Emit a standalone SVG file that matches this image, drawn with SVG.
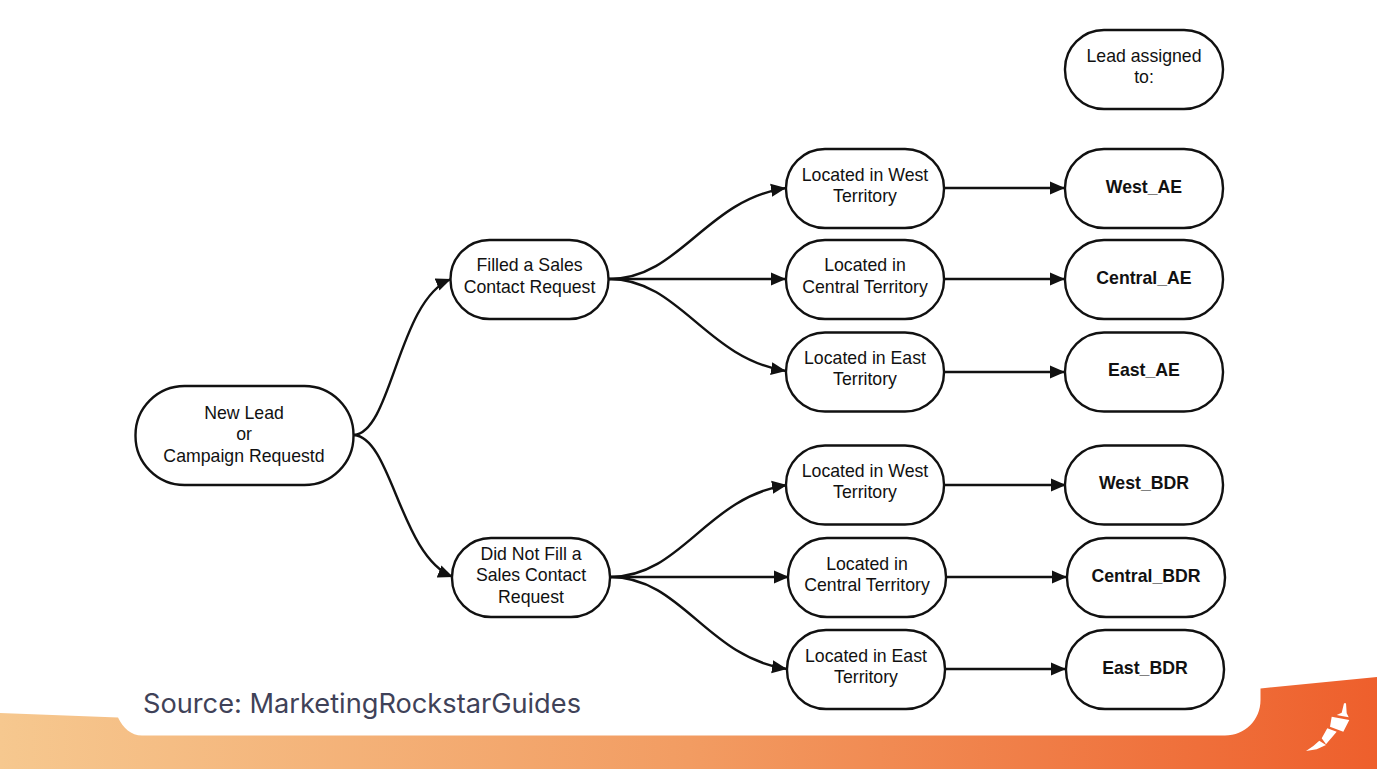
<svg xmlns="http://www.w3.org/2000/svg" width="1377" height="769" viewBox="0 0 1377 769">
<style>
.n{fill:#fff;stroke:#111;stroke-width:2.4}
.t{font-family:"Liberation Sans",Arial,sans-serif;font-size:17.7px;fill:#111;text-anchor:middle}
.b{font-weight:bold}
.c{fill:none;stroke:#111;stroke-width:2.4;marker-end:url(#a)}
</style>
<defs>
<marker id="a" markerUnits="userSpaceOnUse" markerWidth="16" markerHeight="14" refX="15" refY="7" orient="auto"><path d="M0 0.500L15 7L0 13.500Z" fill="#111"/></marker>
<linearGradient id="g" x1="0" y1="0" x2="1" y2="0"><stop offset="0" stop-color="#f6c88f"/><stop offset="0.5" stop-color="#f29c62"/><stop offset="1" stop-color="#ee5f2c"/></linearGradient>
</defs>
<rect width="1377" height="769" fill="#fff"/>
<path id="footer" d="M0 713L118 717.500C123 728 131 735.500 142 735.500L1225 735.500C1245 735.500 1260.500 720 1260.500 700L1260.500 688.500L1377 677L1377 769L0 769Z" fill="url(#g)"/>
<path id="logo" d="M1306 751L1313.300 746L1319.300 740.700L1326 745L1316.700 749.300ZM1321.700 738.300L1327.300 728.300L1336.700 731.700L1326 744.300ZM1330 726.700L1331.700 716.700L1349.300 720L1343.300 731.700ZM1336.700 715L1341.700 712.700L1344 703.300L1346 703.300L1346.700 713.300L1348.700 717.300L1341.700 716Z" fill="#fff"/>
<g id="connectors">
<path class="c" d="M354 435C392 432 398 300 451 279"/>
<path class="c" d="M354 435C392 438 400 556 453 577"/>
<path class="c" d="M609 279C680 279 705 200 786 188"/>
<path class="c" d="M609 279L786 279"/>
<path class="c" d="M609 279C680 279 705 358 786 371"/>
<path class="c" d="M610 577C682 577 706 497 787 485"/>
<path class="c" d="M610 577L789 577"/>
<path class="c" d="M610 577C682 577 706 657 787 669"/>
<path class="c" d="M944 188L1065 188"/>
<path class="c" d="M944 279L1065 279"/>
<path class="c" d="M944 372L1065 372"/>
<path class="c" d="M945 485L1066 485"/>
<path class="c" d="M946 577L1067 577"/>
<path class="c" d="M945 669L1066 669"/>
</g>
<g id="start"><rect class="n" x="135.500" y="386" width="218" height="99" rx="49" ry="49"/><text class="t" x="244" y="418.500">New Lead</text><text class="t" x="244" y="439.500">or</text><text class="t" x="244" y="461.500">Campaign Requestd</text></g>
<g id="filled"><rect class="n" x="450.500" y="240" width="158" height="79" rx="39"/><text class="t" x="529.500" y="271">Filled a Sales</text><text class="t" x="529.500" y="292.500">Contact Request</text></g>
<g id="notfilled"><rect class="n" x="452" y="538" width="158" height="79" rx="39"/><text class="t" x="531" y="559.500">Did Not Fill a</text><text class="t" x="531" y="581">Sales Contact</text><text class="t" x="531" y="602.500">Request</text></g>
<g id="header"><rect class="n" x="1065" y="30" width="158" height="79" rx="39"/><text class="t" x="1144" y="61.500">Lead assigned</text><text class="t" x="1144" y="83">to:</text></g>
<g id="w1"><rect class="n" x="786" y="149" width="158" height="79" rx="39"/><text class="t" x="865" y="180.500">Located in West</text><text class="t" x="865" y="201.500">Territory</text></g>
<g id="c1"><rect class="n" x="786" y="240" width="158" height="79" rx="39"/><text class="t" x="865" y="271">Located in</text><text class="t" x="865" y="292.500">Central Territory</text></g>
<g id="e1"><rect class="n" x="786" y="332.500" width="158" height="79" rx="39"/><text class="t" x="865" y="364">Located in East</text><text class="t" x="865" y="385">Territory</text></g>
<g id="w2"><rect class="n" x="786" y="445.500" width="158" height="79" rx="39"/><text class="t" x="865" y="476.500">Located in West</text><text class="t" x="865" y="498">Territory</text></g>
<g id="c2"><rect class="n" x="788" y="538" width="158" height="79" rx="39"/><text class="t" x="867" y="569.500">Located in</text><text class="t" x="867" y="591">Central Territory</text></g>
<g id="e2"><rect class="n" x="787" y="630" width="158" height="79" rx="39"/><text class="t" x="866" y="661.500">Located in East</text><text class="t" x="866" y="682.500">Territory</text></g>
<g id="wae"><rect class="n" x="1065" y="149" width="158" height="79" rx="39"/><text class="t b" x="1144" y="192.500">West_AE</text></g>
<g id="cae"><rect class="n" x="1065" y="240" width="158" height="79" rx="39"/><text class="t b" x="1144" y="283.500">Central_AE</text></g>
<g id="eae"><rect class="n" x="1065" y="332.500" width="158" height="79" rx="39"/><text class="t b" x="1144" y="376">East_AE</text></g>
<g id="wbdr"><rect class="n" x="1065" y="445.500" width="158" height="79" rx="39"/><text class="t b" x="1144" y="489">West_BDR</text></g>
<g id="cbdr"><rect class="n" x="1067" y="538" width="158" height="79" rx="39"/><text class="t b" x="1146" y="582">Central_BDR</text></g>
<g id="ebdr"><rect class="n" x="1066" y="630" width="158" height="79" rx="39"/><text class="t b" x="1145" y="674">East_BDR</text></g>
<text id="source" x="143" y="713" font-family="Inter,'Noto Sans',sans-serif" font-size="26.500" fill="#3f4258" textLength="438" lengthAdjust="spacingAndGlyphs">Source: MarketingRockstarGuides</text>
</svg>
